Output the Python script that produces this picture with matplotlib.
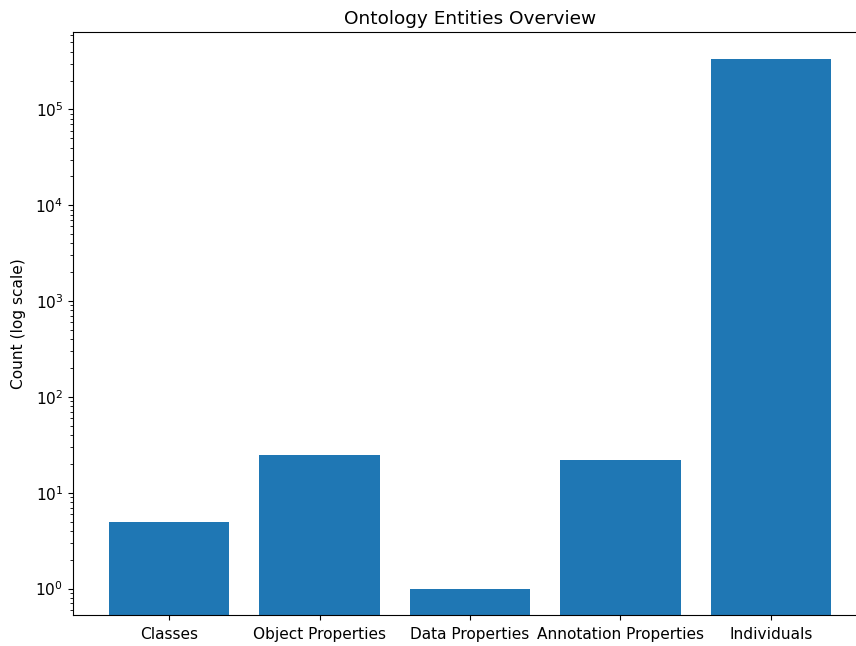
import matplotlib
matplotlib.use("Agg")
import matplotlib.pyplot as plt

categories = ["Classes", "Object Properties", "Data Properties",
              "Annotation Properties", "Individuals"]
counts = [5, 25, 1, 22, 340000]

plt.rcParams["font.size"] = 11.1

fig = plt.figure(figsize=(8.56, 6.46), dpi=100)
ax = fig.add_axes([73 / 856, 1 - 615 / 646, 794 / 856, 583 / 646])
ax.bar(categories, counts, color="#1f77b4")
ax.set_yscale("log")
ax.set_ylabel("Count (log scale)", labelpad=7)
ax.set_title("Ontology Entities Overview")
ax.tick_params(axis="x", pad=5)

fig.savefig("out.png", dpi=100)
